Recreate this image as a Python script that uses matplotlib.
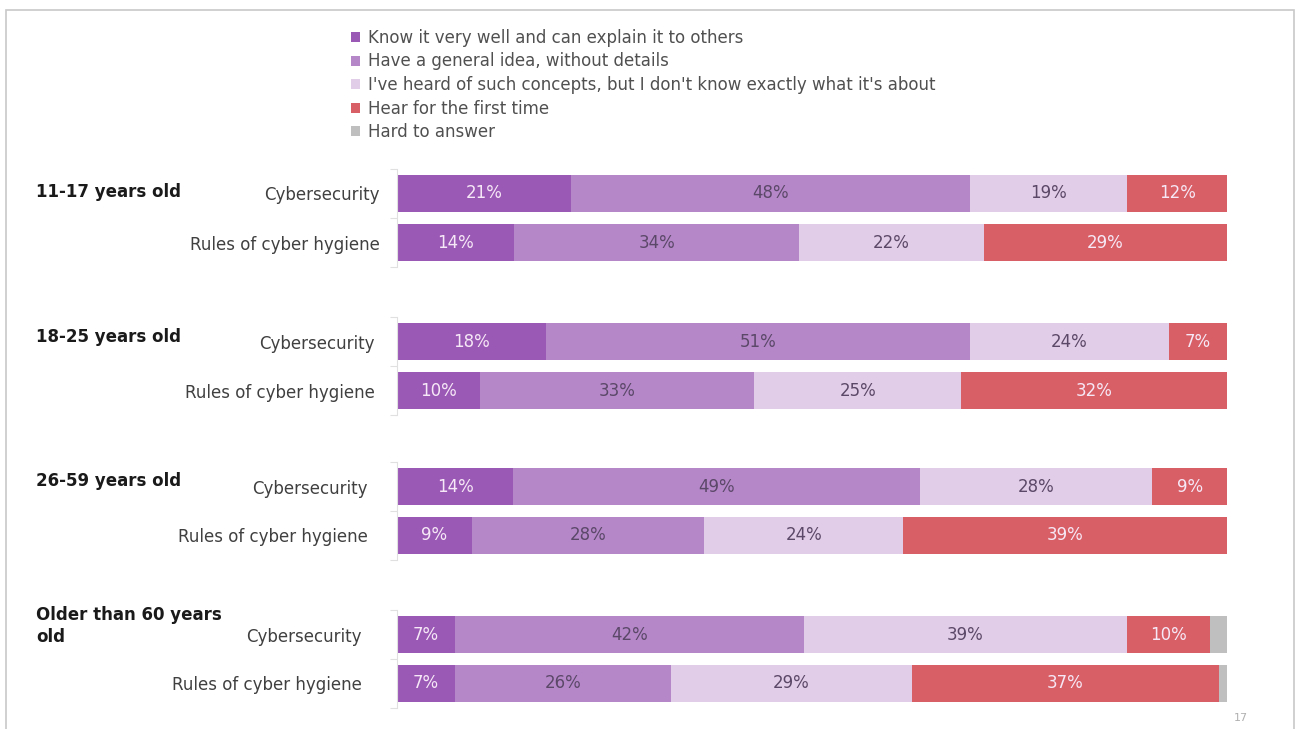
import matplotlib.pyplot as plt
import numpy as np
from matplotlib.patches import Patch, Rectangle

groups = ['11-17 years old', '18-25 years old', '26-59 years old', 'Older than 60 years\nold']
items = ['Cybersecurity', 'Rules of cyber hygiene']
answers = ['Know it very well and can explain it to others',
           'Have a general idea, without details',
           "I've heard of such concepts, but I don't know exactly what it's about",
           'Hear for the first time',
           'Hard to answer']

# percent per group: [Cybersecurity, Rules of cyber hygiene]
know_well = [[21, 14], [18, 10], [14, 9], [7, 7]]
general_idea = [[48, 34], [51, 33], [49, 28], [42, 26]]
heard_of = [[19, 22], [24, 25], [28, 24], [39, 29]]
first_time = [[12, 29], [7, 32], [9, 39], [10, 37]]
hard_to_answer = [[0, 0], [0, 0], [0, 0], [2, 1]]

colors = ['#9b59b6', '#b587c9', '#e2cde8', '#d95f66', '#bfbfbf']
text_colors = ['#f6e8f6', '#5b4868', '#5b4868', '#f6e8f6', '#5b4868']

W, H = 1301, 729
fig = plt.figure(figsize=(W / 100, H / 100), dpi=100)

# page frame
fig.patches.append(Rectangle((6 / W, -0.1), (1294 - 6) / W, 1.1 - 10 / H,
                             transform=fig.transFigure, fill=False,
                             edgecolor='#c8c8c8', lw=1.2))

series = [know_well, general_idea, heard_of, first_time, hard_to_answer]
tops = [169, 317, 462, 610]
pads = [12, 17, 24, 30]
label_tops = [183, 328, 472, 606]
ax_h = 98

for g in range(4):
    ax = fig.add_axes([397 / W, 1 - (tops[g] + ax_h) / H, 830 / W, ax_h / H])
    vals = np.array([[s[g][i] for s in series] for i in range(2)], dtype=float)
    vals = vals / vals.sum(axis=1, keepdims=True) * 100
    y = np.arange(2)
    left = np.zeros(2)
    for k in range(5):
        ax.barh(y, vals[:, k], left=left, height=0.76, color=colors[k], linewidth=0)
        for i in range(2):
            shown = series[k][g][i]
            if shown >= 3:
                ax.text(left[i] + vals[i, k] / 2, y[i], f'{shown}%', ha='center',
                        va='center', fontsize=12, color=text_colors[k])
        left += vals[:, k]
    ax.set_xlim(0, 100)
    ax.set_ylim(1.5, -0.5)
    ax.set_yticks([-0.5, 0.5, 1.5], minor=False)
    ax.set_yticklabels([])
    ax.set_yticks(y, minor=True)
    ax.set_yticklabels(items, minor=True, fontsize=12, color='#404040')
    ax.tick_params(axis='y', which='major', length=5, color='#e0e0e0', direction='out')
    ax.tick_params(axis='y', which='minor', length=0, pad=(pads[g] + 5) / 1.389)
    ax.set_xticks([])
    for s in ['top', 'right', 'bottom']:
        ax.spines[s].set_visible(False)
    ax.spines['left'].set_color('#e0e0e0')
    fig.text(36 / W, 1 - label_tops[g] / H, groups[g], fontsize=12, fontweight='bold',
             ha='left', va='top', color='#1a1a1a', linespacing=1.3)

handles = [Patch(facecolor=c, edgecolor='none') for c in colors]
fig.legend(handles, answers, loc='upper left', bbox_to_anchor=(351 / W, 1 - 29 / H),
           frameon=False, fontsize=12, handlelength=0.55, handleheight=0.55,
           handletextpad=0.5, labelspacing=0.33, borderaxespad=0, borderpad=0,
           labelcolor='#505050')

fig.text(1241 / W, 1 - 718 / H, '17', fontsize=8, color='#b0b0b0', ha='center', va='center')

fig.savefig('out.png', dpi=100)
